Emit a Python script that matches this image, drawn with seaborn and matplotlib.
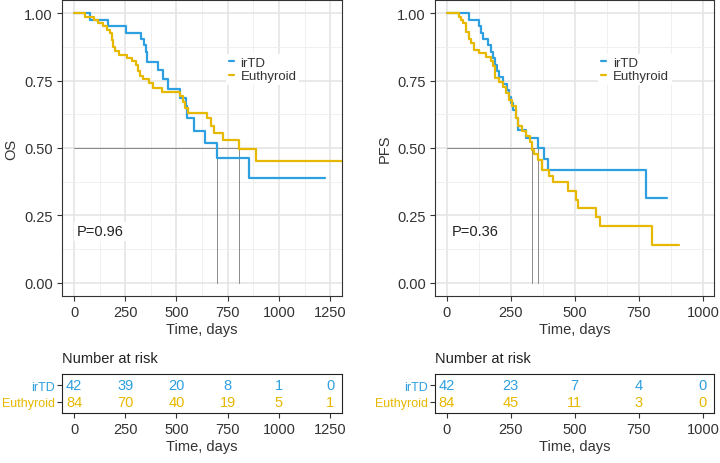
import numpy as np
import pandas as pd
import seaborn as sns
import matplotlib
matplotlib.use('Agg')
import matplotlib.pyplot as plt
from matplotlib.ticker import MultipleLocator

# Colours (survminer style)
BLUE = '#2E9FDF'
GOLD = '#E7B800'
groups = ['irTD', 'Euthyroid']
palette = {'irTD': BLUE, 'Euthyroid': GOLD}

# OS curves (time in days, survival prob after step)
os_irtd_t = [0, 78, 168, 252, 327, 340, 350, 358, 412, 436, 457, 518, 545, 553, 586, 640, 700, 854, 1225]
os_irtd_s = [1.0, 0.976, 0.952, 0.929, 0.905, 0.881, 0.857, 0.821, 0.789, 0.758, 0.72, 0.685, 0.655,
             0.61, 0.563, 0.517, 0.464, 0.387, 0.387]
os_eu_t = [0, 54, 98, 119, 143, 163, 176, 184, 192, 200, 221, 257, 282, 303, 314, 322, 338, 366, 384,
           431, 518, 531, 542, 558, 651, 669, 685, 726, 806, 889, 1350]
os_eu_s = [1.0, 0.988, 0.976, 0.964, 0.952, 0.94, 0.926, 0.9, 0.875, 0.859, 0.846, 0.834, 0.822, 0.81,
           0.785, 0.767, 0.755, 0.742, 0.724, 0.708, 0.692, 0.67, 0.65, 0.629, 0.611, 0.58, 0.556, 0.53,
           0.497, 0.452, 0.452]

# PFS curves
pfs_irtd_t = [0, 87, 127, 134, 143, 160, 173, 180, 190, 195, 206, 219, 234, 242, 251, 260, 271, 277,
              310, 355, 381, 394, 776, 859]
pfs_irtd_s = [1.0, 0.976, 0.952, 0.928, 0.905, 0.881, 0.857, 0.833, 0.81, 0.786, 0.762, 0.738, 0.714,
              0.69, 0.667, 0.643, 0.61, 0.567, 0.537, 0.5, 0.46, 0.42, 0.315, 0.315]
pfs_eu_t = [0, 50, 58, 65, 76, 89, 95, 108, 125, 154, 173, 180, 190, 206, 219, 232, 245, 255, 271, 277,
            294, 310, 326, 334, 343, 355, 373, 398, 414, 473, 503, 512, 581, 599, 802, 906]
pfs_eu_s = [1.0, 0.988, 0.976, 0.964, 0.932, 0.904, 0.89, 0.865, 0.853, 0.84, 0.822, 0.806, 0.76, 0.745,
            0.725, 0.703, 0.68, 0.656, 0.613, 0.583, 0.565, 0.546, 0.522, 0.494, 0.478, 0.454, 0.417,
            0.395, 0.374, 0.34, 0.307, 0.276, 0.242, 0.209, 0.139, 0.139]

# Number at risk tables
os_times = [0, 250, 500, 750, 1000, 1250]
os_risk_irtd = [42, 39, 20, 8, 1, 0]
os_risk_eu = [84, 70, 40, 19, 5, 1]
pfs_times = [0, 250, 500, 750, 1000]
pfs_risk_irtd = [42, 23, 7, 4, 0]
pfs_risk_eu = [84, 45, 11, 3, 0]

sns.set_style('white')
plt.rcParams['font.family'] = ['Liberation Sans', 'DejaVu Sans']

TXT = '#333333'


def make_df(t1, s1, t2, s2):
    d1 = pd.DataFrame({'time': t1, 'surv': s1, 'group': 'irTD'})
    d2 = pd.DataFrame({'time': t2, 'surv': s2, 'group': 'Euthyroid'})
    return pd.concat([d1, d2], ignore_index=True)


def median_time(t, s):
    for ti, si in zip(t, s):
        if si <= 0.5:
            return ti
    return None


def draw_curve(ax, df, ylabel, xlim, xmax_tick, pval, pval_x):
    sns.lineplot(data=df, x='time', y='surv', hue='group', hue_order=groups, palette=palette,
                 drawstyle='steps-post', estimator=None, sort=False, lw=1.6, ax=ax, zorder=3)
    ax.set_xlim(*xlim)
    ax.set_ylim(-0.05, 1.05)
    ax.xaxis.set_major_locator(MultipleLocator(250))
    ax.xaxis.set_minor_locator(MultipleLocator(125))
    ax.yaxis.set_major_locator(MultipleLocator(0.25))
    ax.yaxis.set_minor_locator(MultipleLocator(0.125))
    ax.set_xticks(np.arange(0, xmax_tick + 1, 250))
    ax.yaxis.set_major_formatter(matplotlib.ticker.FormatStrFormatter('%.2f'))
    ax.grid(which='major', color='#E3E3E3', lw=1.1)
    ax.grid(which='minor', color='#EEEEEE', lw=0.6)
    ax.set_axisbelow(True)
    for sp in ax.spines.values():
        sp.set_color('#333333')
        sp.set_linewidth(0.8)
    ax.tick_params(which='major', length=3.5, width=0.8, color='#333333', labelsize=10.5,
                   labelcolor=TXT, pad=3, bottom=True, left=True)
    ax.tick_params(which='minor', length=0)
    ax.set_xlabel('Time, days', fontsize=10.5, color=TXT, labelpad=2)
    ax.set_ylabel(ylabel, fontsize=10.5, color=TXT, labelpad=4)

    # median lines
    meds = []
    for g in groups:
        sub = df[df.group == g]
        meds.append(median_time(sub.time.tolist(), sub.surv.tolist()))
    meds = [m for m in meds if m is not None]
    ax.plot([0, max(meds)], [0.5, 0.5], color='#777777', lw=0.6, zorder=2)
    for m in meds:
        ax.plot([m, m], [0, 0.5], color='#777777', lw=0.6, zorder=2)

    handles, labels = ax.get_legend_handles_labels()
    ax.legend(handles, labels, loc='center left', bbox_to_anchor=(0.562, 0.766), frameon=True,
              facecolor='white', edgecolor='none', framealpha=1, fancybox=False,
              handlelength=0.4, handletextpad=0.5, labelspacing=0.1, borderpad=0.2,
              fontsize=9.5, labelcolor=TXT)

    ax.text(pval_x, 0.19, pval, fontsize=10.5, color='#222222', va='center', ha='left',
            bbox=dict(facecolor='white', edgecolor='none', pad=2), zorder=4)


def draw_table(ax, times, r1, r2, xlim):
    ax.set_xlim(*xlim)
    ax.set_ylim(1.65, -0.65)
    for t, a, b in zip(times, r1, r2):
        ax.text(t, 0, str(a), color=BLUE, ha='center', va='center', fontsize=10.5)
        ax.text(t, 1, str(b), color=GOLD, ha='center', va='center', fontsize=10.5)
    ax.set_xticks(times)
    ax.set_yticks([0, 1])
    ax.set_yticklabels(groups)
    ax.grid(False)
    for sp in ax.spines.values():
        sp.set_color('#222222')
        sp.set_linewidth(0.8)
    ax.tick_params(length=3.5, width=0.8, color='#333333', labelsize=10.5, pad=3,
                   bottom=True, left=True)
    ax.tick_params(axis='y', labelsize=9, pad=1.5)
    ax.tick_params(axis='x', labelcolor=TXT)
    for lab, g in zip(ax.get_yticklabels(), groups):
        lab.set_color(palette[g])
    ax.set_xlabel('Time, days', fontsize=10.5, color=TXT, labelpad=2)


fig = plt.figure(figsize=(7.2, 4.64), dpi=100)
W, H = 720.0, 464.0

ax1 = fig.add_axes([62 / W, (H - 297) / H, 280 / W, 296 / H])
ax2 = fig.add_axes([435 / W, (H - 297) / H, 279 / W, 296 / H])
tb1 = fig.add_axes([62 / W, (H - 414) / H, 280 / W, 39 / H])
tb2 = fig.add_axes([435 / W, (H - 414) / H, 279 / W, 39 / H])

os_xlim = (-59, 1308)
pfs_xlim = (-45, 1043)

draw_curve(ax1, make_df(os_irtd_t, os_irtd_s, os_eu_t, os_eu_s), 'OS', os_xlim, 1250, 'P=0.96', 15)
draw_curve(ax2, make_df(pfs_irtd_t, pfs_irtd_s, pfs_eu_t, pfs_eu_s), 'PFS', pfs_xlim, 1000, 'P=0.36', 22)

draw_table(tb1, os_times, os_risk_irtd, os_risk_eu, os_xlim)
draw_table(tb2, pfs_times, pfs_risk_irtd, pfs_risk_eu, pfs_xlim)

fig.text(62 / W, (H - 359) / H, 'Number at risk', fontsize=10.5, color='#222222', va='center', ha='left')
fig.text(435 / W, (H - 359) / H, 'Number at risk', fontsize=10.5, color='#222222', va='center', ha='left')

fig.savefig('out.png', dpi=100)
